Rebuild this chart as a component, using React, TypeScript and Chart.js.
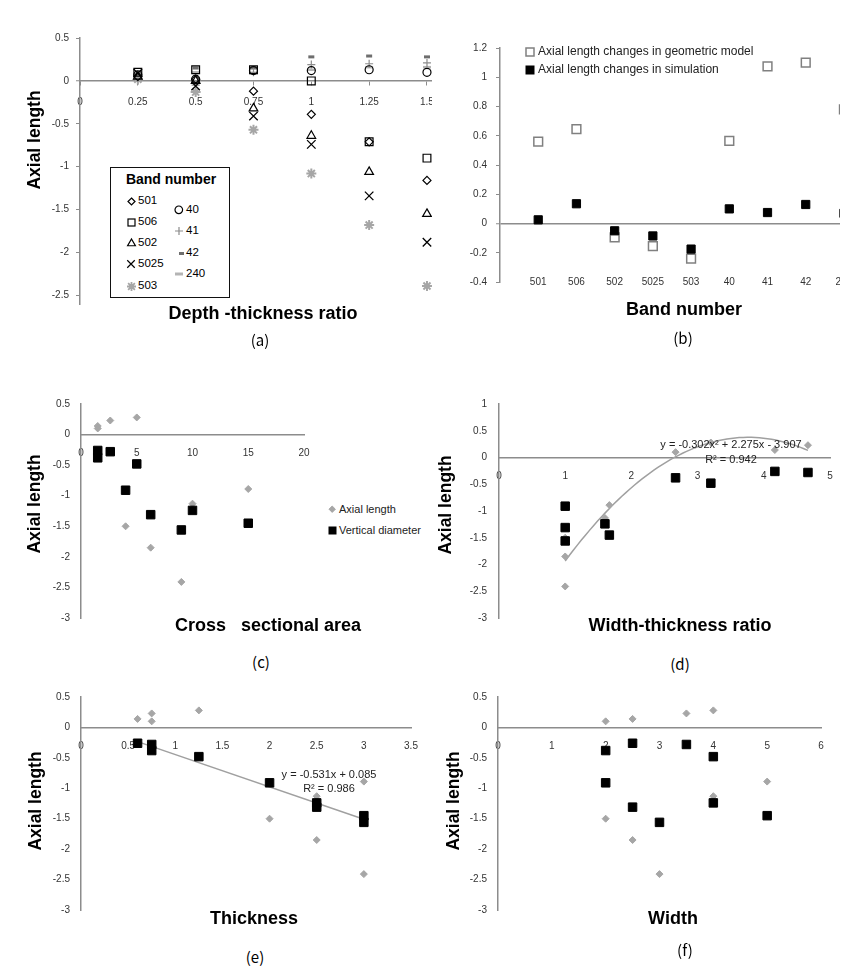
import React, { useEffect, useRef } from 'react';
import { Chart, registerables } from 'chart.js';

Chart.register(...registerables);

const FONT = '"Liberation Sans", Arial, sans-serif';
const CAPTION_FONT = '"Noto Sans CJK KR", "Liberation Sans", sans-serif';
const AXIS = '#8c8c8c';
const AXW = 1.5;
const TICK_TEXT = '#333333';
const GRAY = '#a6a6a6';

// ---------------- (a) Depth-thickness ratio ----------------
const depthRatios = [0.25, 0.5, 0.75, 1, 1.25, 1.5];
const band501 = [0.05, 0.02, -0.12, -0.39, -0.71, -1.16];
const band506 = [0.1, 0.13, 0.13, 0.0, -0.71, -0.9];
const band502 = [0.05, 0.0, -0.32, -0.64, -1.06, -1.55];
const band5025 = [0.09, -0.06, -0.41, -0.74, -1.34, -1.88];
const band503 = [0.02, -0.13, -0.57, -1.08, -1.68, -2.39];
const band40 = [0.07, 0.02, 0.12, 0.12, 0.13, 0.1];
const band41 = [0.0, -0.05, 0.1, 0.19, 0.2, 0.21];
const band42 = [0.08, 0.15, 0.15, 0.28, 0.29, 0.28];
const band240 = [0.06, 0.1, 0.09, 0.13, 0.16, 0.16];
const aXTicks = [0, 0.25, 0.5, 0.75, 1, 1.25, 1.5];
const aYTicks = [0.5, 0, -0.5, -1, -1.5, -2, -2.5];

// ---------------- (b) Band number ----------------
const bandNames = ['501', '506', '502', '5025', '503', '40', '41', '42', '240'];
const geometricChange = [0.56, 0.645, -0.095, -0.155, -0.24, 0.565, 1.075, 1.1, 0.78];
const simulationChange = [0.025, 0.135, -0.05, -0.085, -0.175, 0.1, 0.075, 0.13, 0.07];
const bYTicks = [1.2, 1, 0.8, 0.6, 0.4, 0.2, 0, -0.2, -0.4];

// ---------------- (c)-(f) samples ----------------
const crossSectionalArea = [1.5, 1.5, 2.625, 5, 4, 6.25, 9, 10, 15];
const widthThicknessRatio = [2.667, 4.167, 4.667, 3.2, 1, 1, 1, 1.6, 1.667];
const sampleThickness = [0.75, 0.6, 0.75, 1.25, 2, 2.5, 3, 2.5, 3];
const sampleWidth = [2, 2.5, 3.5, 4, 2, 2.5, 3, 4, 5];
const axialLength = [0.1, 0.14, 0.23, 0.28, -1.5, -1.85, -2.41, -1.13, -0.89];
const verticalDiameter = [-0.38, -0.26, -0.28, -0.48, -0.91, -1.31, -1.56, -1.24, -1.45];

const cXTicks = [0, 5, 10, 15, 20];
const stdYTicks = [0.5, 0, -0.5, -1, -1.5, -2, -2.5, -3];
const dXTicks = [0, 1, 2, 3, 4, 5];
const dYTicks = [1, 0.5, 0, -0.5, -1, -1.5, -2, -2.5, -3];
const eXTicks = [0, 0.5, 1, 1.5, 2, 2.5, 3, 3.5];
const fXTicks = [0, 1, 2, 3, 4, 5, 6];

// trendlines (coefficients shown on the chart)
const quadFit = { a: -0.302, b: 2.275, c: -3.907, from: 1, to: 4.667 };
const linFit = { m: -0.531, c: 0.085, from: 0.6, to: 3 };

// ---------------- helpers ----------------
const YW = 50;
const PT = 12;
const PR = 10;
const PB = 30;

type Rect = { left: number; top: number; right: number; bottom: number };
type Spec = {
  plot: Rect;
  clip?: Rect;
  xMin: number;
  xMax: number;
  yMin: number;
  yMax: number;
  xTicks: number[];
  yTicks: number[];
  xAt: number;
  xBorder: boolean;
  zeroLine?: boolean;
  xTickMarks?: boolean;
  yTickMarks?: boolean;
  xPad: number;
  yPad: number;
  xFmt?: (v: any) => string;
  datasets: any[];
};

const pts = (xs: number[], ys: number[]) => xs.map((x, i) => ({ x, y: ys[i] }));

function marks(data: any[], pointStyle: string, r: number, border: string, fill: string, bw: number, order: number) {
  return {
    data,
    pointStyle,
    pointRadius: r,
    pointBorderColor: border,
    pointBackgroundColor: fill,
    pointBorderWidth: bw,
    showLine: false,
    order,
    clip: false,
  };
}

function trend(data: any[], order: number) {
  return {
    data,
    showLine: true,
    borderColor: '#a0a0a0',
    borderWidth: 1.5,
    pointRadius: 0,
    tension: 0,
    fill: false,
    order,
  };
}

function quadCurve() {
  const out: { x: number; y: number }[] = [];
  const n = 60;
  for (let i = 0; i <= n; i++) {
    const x = quadFit.from + ((quadFit.to - quadFit.from) * i) / n;
    out.push({ x, y: quadFit.a * x * x + quadFit.b * x + quadFit.c });
  }
  return out;
}

function linLine() {
  return [linFit.from, linFit.to].map((x) => ({ x, y: linFit.m * x + linFit.c }));
}

const NONE = 'rgba(0,0,0,0)';

function buildConfig(s: Spec): any {
  const tickFont = { family: FONT, size: 10 };
  const fmt = (v: any) => String(v);
  return {
    type: 'scatter',
    data: { datasets: s.datasets },
    options: {
      animation: false,
      responsive: false,
      devicePixelRatio: 1,
      events: [],
      layout: { padding: { left: 0, top: PT, right: PR, bottom: PB } },
      plugins: { legend: { display: false }, tooltip: { enabled: false }, title: { display: false } },
      scales: {
        x: {
          type: 'linear',
          min: s.xMin,
          max: s.xMax,
          position: { y: s.xAt },
          afterBuildTicks: (sc: any) => {
            sc.ticks = s.xTicks.map((v) => ({ value: v }));
          },
          afterFit: (sc: any) => {
            sc.paddingLeft = 0;
            sc.paddingRight = 0;
          },
          border: { display: s.xBorder, color: AXIS, width: AXW },
          grid: {
            display: true,
            drawOnChartArea: false,
            drawTicks: !!s.xTickMarks,
            tickLength: 4,
            color: AXIS,
            lineWidth: 1,
          },
          ticks: {
            autoSkip: false,
            maxRotation: 0,
            minRotation: 0,
            padding: s.xPad,
            font: tickFont,
            color: TICK_TEXT,
            callback: s.xFmt ?? fmt,
          },
        },
        y: {
          type: 'linear',
          position: 'left',
          min: s.yMin,
          max: s.yMax,
          afterBuildTicks: (sc: any) => {
            sc.ticks = s.yTicks.map((v) => ({ value: v }));
          },
          afterFit: (sc: any) => {
            sc.width = YW;
            sc.paddingTop = 0;
            sc.paddingBottom = 0;
          },
          border: { display: true, color: AXIS, width: AXW },
          grid: {
            display: true,
            drawOnChartArea: !!s.zeroLine,
            drawTicks: !!s.yTickMarks,
            tickLength: 4,
            color: (c: any) => (c.tick && c.tick.value === 0 ? AXIS : NONE),
            lineWidth: (c: any) => (c.tick && c.tick.value === 0 ? AXW : 1),
            tickColor: AXIS,
            tickWidth: 1,
          },
          ticks: { autoSkip: false, padding: s.yPad, font: tickFont, color: TICK_TEXT, callback: fmt },
        },
      },
    },
  };
}

function ChartPanel({ spec }: { spec: Spec }) {
  const ref = useRef<HTMLCanvasElement>(null);
  const cl = spec.plot.left - YW;
  const ct = spec.plot.top - PT;
  const w = spec.plot.right + PR - cl;
  const h = spec.plot.bottom + PB - ct;
  useEffect(() => {
    const chart = new Chart(ref.current as HTMLCanvasElement, buildConfig(spec));
    return () => chart.destroy();
  }, []);
  const clip = spec.clip ?? { left: cl, top: ct, right: cl + w, bottom: ct + h };
  return (
    <div
      style={{
        position: 'absolute',
        left: clip.left,
        top: clip.top,
        width: clip.right - clip.left,
        height: clip.bottom - clip.top,
        overflow: 'hidden',
      }}
    >
      <canvas
        ref={ref}
        width={w}
        height={h}
        style={{ position: 'absolute', left: cl - clip.left, top: ct - clip.top, width: w, height: h }}
      />
    </div>
  );
}

// ---------------- panel specs ----------------
const specA: Spec = {
  plot: { left: 80, top: 38, right: 470, bottom: 304 },
  clip: { left: 0, top: 0, right: 432, bottom: 360 },
  xMin: 0,
  xMax: 1.686,
  yMin: -2.6,
  yMax: 0.5,
  xTicks: aXTicks,
  yTicks: aYTicks,
  xAt: 0,
  xBorder: true,
  xTickMarks: true,
  yTickMarks: true,
  xPad: 11,
  yPad: 7,
  datasets: [
    marks(pts(depthRatios, band240), 'line', 4, '#b4b4b4', NONE, 2.5, 9),
    marks(pts(depthRatios, band42), 'line', 3, '#6e6e6e', NONE, 3, 8),
    marks(pts(depthRatios, band41), 'cross', 4, '#8c8c8c', NONE, 1.2, 7),
    marks(pts(depthRatios, band40), 'circle', 4, '#000', NONE, 1.2, 6),
    marks(pts(depthRatios, band503), 'star', 5, GRAY, NONE, 2, 5),
    marks(pts(depthRatios, band5025), 'crossRot', 6, '#000', NONE, 1.3, 4),
    marks(pts(depthRatios, band502), 'triangle', 5, '#000', NONE, 1.2, 3),
    marks(pts(depthRatios, band506), 'rect', 5.5, '#000', NONE, 1.2, 2),
    marks(pts(depthRatios, band501), 'rectRot', 4, '#000', NONE, 1.2, 1),
  ],
};

const bandIndex = bandNames.map((_, i) => i + 1);

const specB: Spec = {
  plot: { left: 500, top: 48, right: 860, bottom: 282 },
  clip: { left: 432, top: 0, right: 840, bottom: 360 },
  xMin: 0,
  xMax: 9.42,
  yMin: -0.4,
  yMax: 1.2,
  xTicks: bandIndex,
  yTicks: bYTicks,
  xAt: -0.4,
  xBorder: false,
  zeroLine: true,
  yTickMarks: true,
  xPad: -6,
  yPad: 9,
  xFmt: (v: any) => bandNames[Math.round(v) - 1] ?? '',
  datasets: [
    marks(pts(bandIndex, geometricChange), 'rect', 6.2, '#808080', NONE, 1.5, 2),
    marks(pts(bandIndex, simulationChange), 'rect', 5.8, '#000', '#000', 1, 1),
  ],
};

const specC: Spec = {
  plot: { left: 81, top: 404, right: 304, bottom: 618 },
  xMin: 0,
  xMax: 20,
  yMin: -3,
  yMax: 0.5,
  xTicks: cXTicks,
  yTicks: stdYTicks,
  xAt: 0,
  xBorder: true,
  xPad: 13,
  yPad: 11,
  datasets: [
    marks(pts(crossSectionalArea, axialLength), 'rectRot', 3.5, GRAY, GRAY, 1, 2),
    marks(pts(crossSectionalArea, verticalDiameter), 'rect', 6, '#000', '#000', 1, 1),
  ],
};

const specD: Spec = {
  plot: { left: 499, top: 404, right: 830, bottom: 618 },
  xMin: 0,
  xMax: 5,
  yMin: -3,
  yMax: 1,
  xTicks: dXTicks,
  yTicks: dYTicks,
  xAt: 0,
  xBorder: true,
  xPad: 13,
  yPad: 12,
  datasets: [
    trend(quadCurve(), 3),
    marks(pts(widthThicknessRatio, axialLength), 'rectRot', 3.5, GRAY, GRAY, 1, 2),
    marks(pts(widthThicknessRatio, verticalDiameter), 'rect', 6, '#000', '#000', 1, 1),
  ],
};

const specE: Spec = {
  plot: { left: 81, top: 697, right: 411, bottom: 910 },
  xMin: 0,
  xMax: 3.5,
  yMin: -3,
  yMax: 0.5,
  xTicks: eXTicks,
  yTicks: stdYTicks,
  xAt: 0,
  xBorder: true,
  xPad: 13,
  yPad: 11,
  datasets: [
    marks(pts(sampleThickness, axialLength), 'rectRot', 3.5, GRAY, GRAY, 1, 3),
    trend(linLine(), 2),
    marks(pts(sampleThickness, verticalDiameter), 'rect', 6, '#000', '#000', 1, 1),
  ],
};

const specF: Spec = {
  plot: { left: 498, top: 697, right: 821, bottom: 910 },
  xMin: 0,
  xMax: 6,
  yMin: -3,
  yMax: 0.5,
  xTicks: fXTicks,
  yTicks: stdYTicks,
  xAt: 0,
  xBorder: true,
  xPad: 13,
  yPad: 11,
  datasets: [
    marks(pts(sampleWidth, axialLength), 'rectRot', 3.5, GRAY, GRAY, 1, 2),
    marks(pts(sampleWidth, verticalDiameter), 'rect', 6, '#000', '#000', 1, 1),
  ],
};

const specs = [specA, specB, specC, specD, specE, specF];

// ---------------- overlay helpers ----------------
function T(props: {
  x: number;
  y: number;
  children: any;
  size?: number;
  bold?: boolean;
  align?: 'center' | 'left';
  rotate?: boolean;
  color?: string;
  family?: string;
}) {
  const { x, y, children, size = 12, bold = false, align = 'center', rotate = false, color = '#000', family = FONT } = props;
  const tx = align === 'center' ? '-50%' : '0';
  return (
    <div
      style={{
        position: 'absolute',
        left: x,
        top: y,
        transform: `translate(${tx}, -50%)${rotate ? ' rotate(-90deg)' : ''}`,
        fontSize: size,
        fontWeight: bold ? 700 : 400,
        whiteSpace: 'pre',
        lineHeight: 1.15,
        fontFamily: family,
        color,
      }}
    >
      {children}
    </div>
  );
}

function Mk(props: { x: number; y: number; kind: string; r: number; stroke: string; fill?: string; sw?: number }) {
  const { x, y, kind, r, stroke, fill = 'none', sw = 1.2 } = props;
  const s = r + 3;
  let el: any = null;
  const d = r * 0.75;
  switch (kind) {
    case 'diamond':
      el = <polygon points={`0,${-r} ${r},0 0,${r} ${-r},0`} />;
      break;
    case 'square':
      el = <rect x={-r} y={-r} width={2 * r} height={2 * r} />;
      break;
    case 'triangle':
      el = <polygon points={`0,${-r} ${r * 0.866},${r * 0.5} ${-r * 0.866},${r * 0.5}`} />;
      break;
    case 'circle':
      el = <circle r={r} />;
      break;
    case 'x':
      el = <path d={`M${-d},${-d}L${d},${d}M${-d},${d}L${d},${-d}`} />;
      break;
    case 'plus':
      el = <path d={`M${-r},0L${r},0M0,${-r}L0,${r}`} />;
      break;
    case 'star':
      el = <path d={`M${-d},${-d}L${d},${d}M${-d},${d}L${d},${-d}M${-r},0L${r},0M0,${-r}L0,${r}`} />;
      break;
    case 'dash':
      el = <path d={`M${-r},0L${r},0`} />;
      break;
  }
  return (
    <svg
      width={2 * s}
      height={2 * s}
      style={{ position: 'absolute', left: x - s, top: y - s, overflow: 'visible' }}
    >
      <g transform={`translate(${s},${s})`} stroke={stroke} fill={fill} strokeWidth={sw}>
        {el}
      </g>
    </svg>
  );
}

export default function App() {
  return (
    <div
      style={{
        position: 'absolute',
        left: 0,
        top: 0,
        width: 851,
        height: 972,
        background: '#fff',
        overflow: 'hidden',
        fontFamily: FONT,
      }}
    >
      {specs.map((s, i) => (
        <ChartPanel key={i} spec={s} />
      ))}

      {/* Y axis titles */}
      <T x={34} y={140} size={17.5} bold rotate>Axial length</T>
      <T x={34} y={504} size={17.5} bold rotate>Axial length</T>
      <T x={445} y={505} size={17.5} bold rotate>Axial length</T>
      <T x={35} y={801} size={17.5} bold rotate>Axial length</T>
      <T x={453} y={801} size={17.5} bold rotate>Axial length</T>

      {/* X axis titles */}
      <T x={263} y={313} size={18} bold>Depth -thickness ratio</T>
      <T x={684} y={309} size={18} bold>Band number</T>
      <T x={268} y={625} size={18} bold>{'Cross   sectional area'}</T>
      <T x={680} y={625} size={18} bold>Width-thickness ratio</T>
      <T x={254} y={918} size={18} bold>Thickness</T>
      <T x={673} y={918} size={18} bold>Width</T>

      {/* panel captions */}
      <T x={260} y={340} size={15} family={CAPTION_FONT}>(a)</T>
      <T x={683} y={338} size={15} family={CAPTION_FONT}>(b)</T>
      <T x={261} y={662} size={15} family={CAPTION_FONT}>(c)</T>
      <T x={680} y={664} size={15} family={CAPTION_FONT}>(d)</T>
      <T x={255} y={957} size={15} family={CAPTION_FONT}>(e)</T>
      <T x={685} y={950} size={15} family={CAPTION_FONT}>(f)</T>

      {/* trendline equations */}
      <T x={731} y={444} size={11} color="#222">y = -0.302x² + 2.275x - 3.907</T>
      <T x={731} y={459} size={11} color="#222">R² = 0.942</T>
      <T x={329} y={774} size={11} color="#222">y = -0.531x + 0.085</T>
      <T x={329} y={788} size={11} color="#222">R² = 0.986</T>

      {/* legend (a) */}
      <div
        style={{
          position: 'absolute',
          left: 110,
          top: 167,
          width: 120,
          height: 131,
          border: '1.5px solid #111',
          boxSizing: 'border-box',
          background: '#fff',
        }}
      />
      <T x={171} y={179} size={14} bold>Band number</T>
      <Mk x={131} y={201} kind="diamond" r={3.5} stroke="#000" />
      <T x={138} y={201} size={11.5} align="left">501</T>
      <Mk x={131} y={222} kind="square" r={3.5} stroke="#000" />
      <T x={138} y={222} size={11.5} align="left">506</T>
      <Mk x={131} y={243} kind="triangle" r={4.5} stroke="#000" />
      <T x={138} y={243} size={11.5} align="left">502</T>
      <Mk x={131} y={264} kind="x" r={5} stroke="#000" />
      <T x={138} y={264} size={11.5} align="left">5025</T>
      <Mk x={131} y={286} kind="star" r={4.5} stroke={GRAY} sw={1.8} />
      <T x={138} y={286} size={11.5} align="left">503</T>
      <Mk x={179} y={210} kind="circle" r={3.8} stroke="#000" />
      <T x={186} y={210} size={11.5} align="left">40</T>
      <Mk x={179} y={231} kind="plus" r={4} stroke="#8c8c8c" />
      <T x={186} y={231} size={11.5} align="left">41</T>
      <Mk x={181} y={253} kind="dash" r={2.5} stroke="#6e6e6e" sw={3} />
      <T x={186} y={253} size={11.5} align="left">42</T>
      <Mk x={179} y={274} kind="dash" r={4} stroke="#b4b4b4" sw={3} />
      <T x={186} y={274} size={11.5} align="left">240</T>

      {/* legend (b) */}
      <Mk x={530} y={52} kind="square" r={4} stroke="#808080" sw={1.5} />
      <T x={538} y={52} size={12} align="left" color="#222">Axial length changes in geometric model</T>
      <Mk x={530} y={70} kind="square" r={4} stroke="#000" fill="#000" sw={1} />
      <T x={538} y={70} size={12} align="left" color="#222">Axial length changes in simulation</T>

      {/* legend (c) */}
      <Mk x={332} y={509} kind="diamond" r={3.2} stroke={GRAY} fill={GRAY} sw={1} />
      <T x={339} y={509} size={11} align="left" color="#222">Axial length</T>
      <Mk x={332} y={530} kind="square" r={3.5} stroke="#000" fill="#000" sw={1} />
      <T x={339} y={530} size={11} align="left" color="#222">Vertical diameter</T>
    </div>
  );
}
